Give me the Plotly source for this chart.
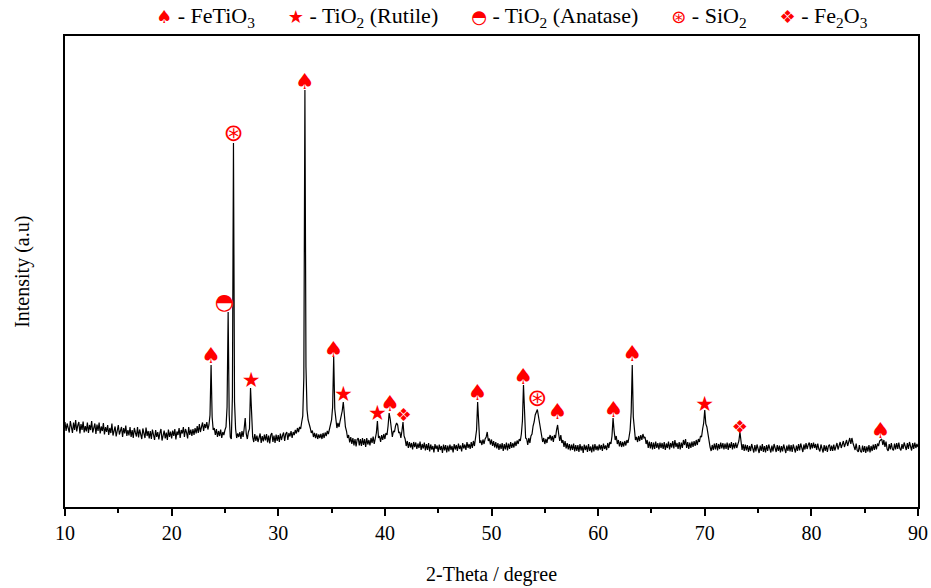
import numpy as np
import plotly.graph_objects as go

# 2-Theta grid, 0.1 degree step
two_theta = np.round(np.linspace(10, 90, 801), 1)

# intensity (a.u.), one row = 2 degrees
intensity = [
    850, 760, 835, 780, 745, 860, 800, 740, 845, 770, 870, 755, 815, 850, 735, 830, 770, 855, 745, 810,
    755, 845, 740, 820, 770, 860, 745, 800, 835, 730, 825, 760, 845, 735, 805, 760, 840, 725, 800, 750,
    820, 720, 790, 740, 835, 715, 780, 805, 705, 770, 820, 725, 760, 800, 700, 790, 735, 815, 710, 770,
    715, 800, 700, 770, 690, 790, 745, 705, 800, 695, 775, 720, 680, 785, 740, 690, 795, 710, 760, 685,
    760, 680, 775, 715, 670, 770, 700, 750, 675, 740, 780, 665, 730, 765, 685, 745, 670, 775, 700, 755,
    685, 765, 710, 780, 675, 755, 720, 790, 690, 770, 735, 800, 700, 780, 745, 685, 800, 720, 775, 710,
    780, 720, 790, 735, 810, 740, 830, 750, 800, 845, 760, 830, 790, 850, 775, 820, 920, 1420, 900, 770,
    790, 720, 780, 700, 760, 710, 775, 690, 750, 720, 770, 800, 1000, 1950, 920, 700, 680, 1100, 3640, 1050,
    780, 690, 735, 700, 750, 680, 760, 700, 780, 890, 730, 680, 750, 780, 1190, 830, 700, 650, 730, 660,
    715, 650, 700, 735, 640, 710, 655, 725, 665, 730, 645, 715, 635, 720, 740, 650, 715, 640, 725, 660,
    720, 650, 735, 670, 715, 745, 660, 730, 750, 670, 740, 705, 760, 690, 750, 720, 770, 735, 790, 750,
    800, 780, 850, 910, 1300, 4170, 1400, 970, 870, 810, 790, 740, 765, 700, 740, 690, 735, 680, 725, 690,
    730, 680, 740, 690, 745, 710, 760, 730, 790, 810, 870, 1000, 1500, 980, 850, 790, 840, 800, 860, 910,
    960, 1050, 920, 800, 760, 690, 720, 645, 700, 630, 690, 615, 680, 605, 675, 690, 615, 680, 610, 690,
    620, 680, 600, 690, 625, 670, 615, 690, 640, 705, 630, 700, 740, 860, 690, 710, 650, 720, 670, 730,
    680, 740, 720, 810, 940, 880, 760, 700, 760, 750, 810, 840, 820, 740, 750, 690, 760, 850, 710, 680,
    610, 660, 590, 650, 595, 640, 575, 650, 600, 645, 580, 635, 590, 655, 570, 630, 585, 645, 565, 630,
    570, 640, 555, 625, 575, 610, 545, 630, 580, 615, 550, 625, 570, 610, 540, 625, 565, 620, 545, 615,
    555, 625, 570, 610, 545, 630, 575, 620, 560, 635, 580, 615, 555, 640, 585, 625, 570, 650, 590, 630,
    580, 650, 590, 660, 610, 670, 770, 1050, 770, 640, 665, 620, 675, 630, 680, 700, 750, 660, 685, 625,
    675, 610, 660, 595, 650, 585, 640, 570, 630, 580, 640, 560, 630, 575, 645, 565, 635, 580, 650, 590,
    640, 595, 655, 610, 665, 630, 680, 660, 730, 860, 1220, 830, 690, 680, 620, 690, 640, 710, 730, 810,
    850, 920, 950, 975, 910, 850, 750, 720, 650, 690, 630, 680, 640, 700, 680, 720, 665, 710, 650, 720,
    690, 770, 820, 730, 660, 720, 640, 670, 600, 660, 585, 640, 575, 630, 565, 625, 570, 635, 555, 620,
    560, 620, 550, 630, 565, 610, 540, 625, 570, 615, 550, 630, 560, 605, 545, 625, 555, 630, 570, 610,
    565, 625, 575, 620, 560, 635, 580, 615, 570, 640, 590, 650, 630, 710, 890, 760, 670, 710, 630, 670,
    605, 660, 600, 650, 605, 660, 615, 670, 640, 700, 770, 950, 1420, 900, 730, 670, 700, 650, 710, 660,
    720, 670, 730, 690, 700, 630, 670, 590, 655, 585, 650, 575, 645, 580, 655, 590, 640, 575, 645, 590,
    640, 580, 650, 570, 635, 590, 655, 575, 640, 595, 660, 585, 670, 600, 640, 580, 650, 575, 645, 590,
    670, 620, 680, 590, 650, 580, 645, 590, 655, 600, 660, 610, 670, 620, 680, 650, 710, 700, 780, 840,
    970, 830, 800, 720, 650, 600, 560, 620, 570, 635, 575, 640, 565, 630, 580, 645, 585, 640, 575, 635,
    580, 645, 570, 635, 590, 650, 575, 640, 585, 645, 590, 630, 660, 750, 640, 570, 630, 560, 625, 565,
    620, 550, 610, 560, 630, 565, 545, 620, 555, 625, 570, 540, 615, 560, 630, 550, 610, 545, 620, 560,
    625, 565, 545, 615, 555, 630, 570, 550, 620, 560, 615, 545, 610, 555, 625, 570, 540, 615, 560, 625,
    555, 620, 550, 625, 570, 545, 615, 560, 630, 565, 635, 570, 550, 625, 575, 640, 580, 620, 645, 575,
    640, 585, 645, 590, 630, 570, 635, 580, 555, 625, 570, 545, 620, 560, 615, 550, 610, 625, 560, 615,
    560, 625, 565, 615, 640, 575, 630, 650, 590, 640, 660, 600, 650, 670, 610, 665, 690, 630, 690, 640,
    600, 570, 635, 565, 550, 620, 560, 545, 615, 550, 610, 540, 605, 555, 620, 545, 610, 560, 625, 570,
    630, 575, 635, 610, 660, 675, 680, 620, 670, 600, 655, 580, 560, 630, 575, 640, 580, 565, 635, 575,
    640, 580, 645, 585, 565, 630, 580, 645, 590, 570, 640, 580, 650, 585, 565, 640, 580, 645, 590, 630,
    600,
]
assert len(intensity) == len(two_theta)

# phase markers (position, height of the symbol)
fetio3_x = [23.7, 32.5, 35.2, 40.5, 48.7, 53.0, 56.2, 61.45, 63.2, 86.5]
fetio3_y = [1500, 4240, 1560, 1020, 1130, 1290, 940, 960, 1520, 750]
rutile_x = [27.45, 36.1, 39.3, 70.0]
rutile_y = [1250, 1110, 920, 1010]
anatase_x = [24.95]
anatase_y = [2040]
sio2_x = [25.8, 54.3]
sio2_y = [3720, 1070]
fe2o3_x = [41.75, 73.3]
fe2o3_y = [910, 790]

RED = "#ff0000"
SERIF = "Liberation Serif, Times New Roman, serif"

fig = go.Figure()

fig.add_trace(go.Scatter(x=two_theta, y=intensity, mode="lines",
                         line=dict(color="black", width=1.2), showlegend=False))

phases = [
    (fetio3_x, fetio3_y, "♠", 22),
    (rutile_x, rutile_y, "★", 21),
    (anatase_x, anatase_y, "◓", 22),
    (sio2_x, sio2_y, "⊛", 24),
    (fe2o3_x, fe2o3_y, "❖", 18),
]
for px_, py_, glyph, size in phases:
    fig.add_trace(go.Scatter(x=px_, y=py_, mode="text", text=[glyph] * len(px_),
                             textposition="middle center",
                             textfont=dict(color=RED, size=size, family="DejaVu Sans"),
                             showlegend=False))

# leyenda en la parte superior
sp = "&nbsp;" * 6
sym = f"<span style='color:{RED};font-family:DejaVu Sans;font-size:18px'>%s</span>"
legend_text = (
    (sym % "♠") + f" - FeTiO<sub>3</sub>{sp}"
    + (sym % "★") + f" - TiO<sub>2</sub> (Rutile){sp}"
    + (sym % "◓") + f" - TiO<sub>2</sub> (Anatase){sp}"
    + (sym % "⊛") + f" - SiO<sub>2</sub>{sp}"
    + (sym % "❖") + " - Fe<sub>2</sub>O<sub>3</sub>"
)
fig.add_annotation(text=legend_text, xref="paper", yref="paper", x=0.524, y=1.04,
                   xanchor="center", yanchor="middle", showarrow=False,
                   font=dict(family=SERIF, size=22, color="black"))

fig.add_annotation(text="Intensity (a.u)", xref="paper", yref="paper", x=-0.05, y=0.5,
                   xanchor="center", yanchor="middle", textangle=-90, showarrow=False,
                   font=dict(family=SERIF, size=20, color="black"))
fig.add_annotation(text="2-Theta / degree", xref="paper", yref="paper", x=0.5, y=-0.144,
                   xanchor="center", yanchor="middle", showarrow=False,
                   font=dict(family=SERIF, size=20, color="black"))

fig.update_xaxes(range=[10, 90], dtick=10, tick0=10, ticks="outside", ticklen=7, tickwidth=1.5,
                 tickcolor="black", showline=True, linewidth=2, linecolor="black", mirror=True,
                 showgrid=False, zeroline=False, automargin=False,
                 minor=dict(dtick=5, ticks="outside", ticklen=4, tickcolor="black", tickwidth=1.5),
                 tickfont=dict(family=SERIF, size=20, color="black"))
fig.update_yaxes(range=[0, 4710], showticklabels=False, ticks="", showline=True, linewidth=2,
                 linecolor="black", mirror=True, showgrid=False, zeroline=False, automargin=False)

fig.update_layout(width=931, height=588, plot_bgcolor="white", paper_bgcolor="white",
                  margin=dict(l=65, r=13, t=36, b=81), showlegend=False)

# quitar el margen por defecto del body para que la figura quede en (0, 0)
fig.write_html("out.html", config={"displayModeBar": False},
               post_script="document.body.style.margin='0';document.body.style.overflow='hidden';")
